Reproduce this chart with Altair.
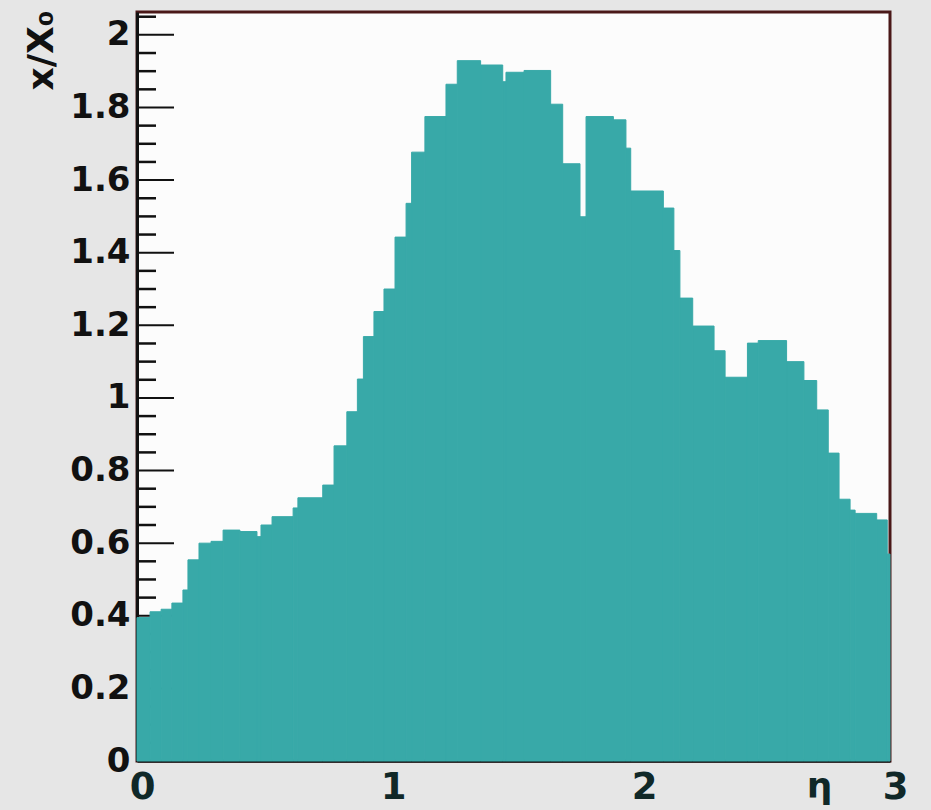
import altair as alt
import pandas as pd

# Bin edges in pseudorapidity (eta) and the material budget x/X0 of each bin
eta_edges = [0.000, 0.052, 0.096, 0.139, 0.183, 0.203, 0.247, 0.295, 0.343, 0.410,
             0.478, 0.494, 0.538, 0.622, 0.641, 0.740, 0.785, 0.836, 0.878, 0.902,
             0.944, 0.984, 1.028, 1.072, 1.094, 1.147, 1.231, 1.276, 1.369, 1.457,
             1.470, 1.542, 1.648, 1.696, 1.765, 1.789, 1.898, 1.948, 1.967, 2.097,
             2.139, 2.163, 2.214, 2.299, 2.343, 2.432, 2.475, 2.588, 2.657, 2.708,
             2.754, 2.797, 2.841, 2.861, 2.947, 2.989, 3.000]
x_over_x0 = [0.395, 0.411, 0.418, 0.435, 0.471, 0.554, 0.600, 0.605, 0.636, 0.632,
             0.618, 0.650, 0.673, 0.697, 0.725, 0.760, 0.868, 0.962, 1.052, 1.169,
             1.238, 1.300, 1.443, 1.536, 1.677, 1.775, 1.864, 1.929, 1.917, 1.871,
             1.897, 1.902, 1.809, 1.645, 1.499, 1.775, 1.766, 1.688, 1.570, 1.523,
             1.406, 1.275, 1.198, 1.130, 1.057, 1.151, 1.158, 1.100, 1.048, 0.967,
             0.848, 0.721, 0.691, 0.682, 0.664, 0.570]

# Axis tick positions
y_major = [0.0, 0.2, 0.4, 0.6, 0.8, 1.0, 1.2, 1.4, 1.6, 1.8, 2.0]
y_minor = [round(0.05 * i, 2) for i in range(1, 42) if i % 4 != 0]
x_major = [0, 1, 2, 3]

TEAL = "#38a9a8"
FONT = "DejaVu Sans"

hist = pd.DataFrame({
    "lo": eta_edges[:-1],
    "hi": eta_edges[1:],
    "val": x_over_x0,
})

x_scale = alt.Scale(domain=[0, 3], nice=False, zero=False)
y_scale = alt.Scale(domain=[0, 2.063], nice=False)

y_axis = alt.Axis(
    values=y_major,
    format="~g",
    ticks=False,
    grid=False,
    domainColor="#111111",
    domainWidth=3,
    labelFont=FONT,
    labelFontWeight="bold",
    labelFontSize=34,
    labelColor="#111111",
    labelPadding=7,
    title="x/X₀",
    titleFont=FONT,
    titleFontWeight="bold",
    titleFontSize=36,
    titleColor="#111111",
    titleAngle=270,
    titleX=-85,
    titleY=-2,
    titleAlign="right",
    titleBaseline="alphabetic",
)

x_axis = alt.Axis(
    values=x_major,
    format="d",
    ticks=False,
    grid=False,
    domainColor="#111111",
    domainWidth=2.5,
    labelFont=FONT,
    labelFontWeight="bold",
    labelFontSize=37,
    labelColor="#102828",
    labelPadding=8,
    labelOffset=5,
    labelFlush=False,
    title="η",
    titleFont=FONT,
    titleFontWeight="bold",
    titleFontSize=36,
    titleColor="#102828",
    titleX=682,
    titleY=36,
    titleAlign="center",
    titleBaseline="alphabetic",
)

# Inward-pointing ticks along the left edge, drawn beneath the histogram
major_ticks = alt.Chart(pd.DataFrame({"val": y_major[1:]})).mark_rule(
    color="#111111", strokeWidth=2
).encode(
    y=alt.Y("val:Q", scale=y_scale, axis=y_axis),
    x=alt.value(0),
    x2=alt.value(37),
)
minor_ticks = alt.Chart(pd.DataFrame({"val": y_minor})).mark_rule(
    color="#111111", strokeWidth=2.5
).encode(
    y=alt.Y("val:Q", scale=y_scale, axis=y_axis),
    x=alt.value(0),
    x2=alt.value(19),
)

bars = alt.Chart(hist).mark_rect(color=TEAL, stroke=TEAL, strokeWidth=1).encode(
    x=alt.X("lo:Q", scale=x_scale, axis=x_axis),
    x2="hi:Q",
    y=alt.Y("val:Q", scale=y_scale, axis=y_axis),
    y2=alt.datum(0),
)

chart = alt.layer(major_ticks, minor_ticks, bars).properties(
    width=753,
    height=749,
    padding={"left": 137, "top": 12, "right": 41, "bottom": 49},
    autosize=alt.AutoSizeParams(type="none"),
    background="#e6e6e6",
).configure_view(
    fill="#fcfcfc",
    stroke="#4a1818",
    strokeWidth=3,
)

chart.save("out.html", embed_options={"renderer": "svg", "actions": False})
